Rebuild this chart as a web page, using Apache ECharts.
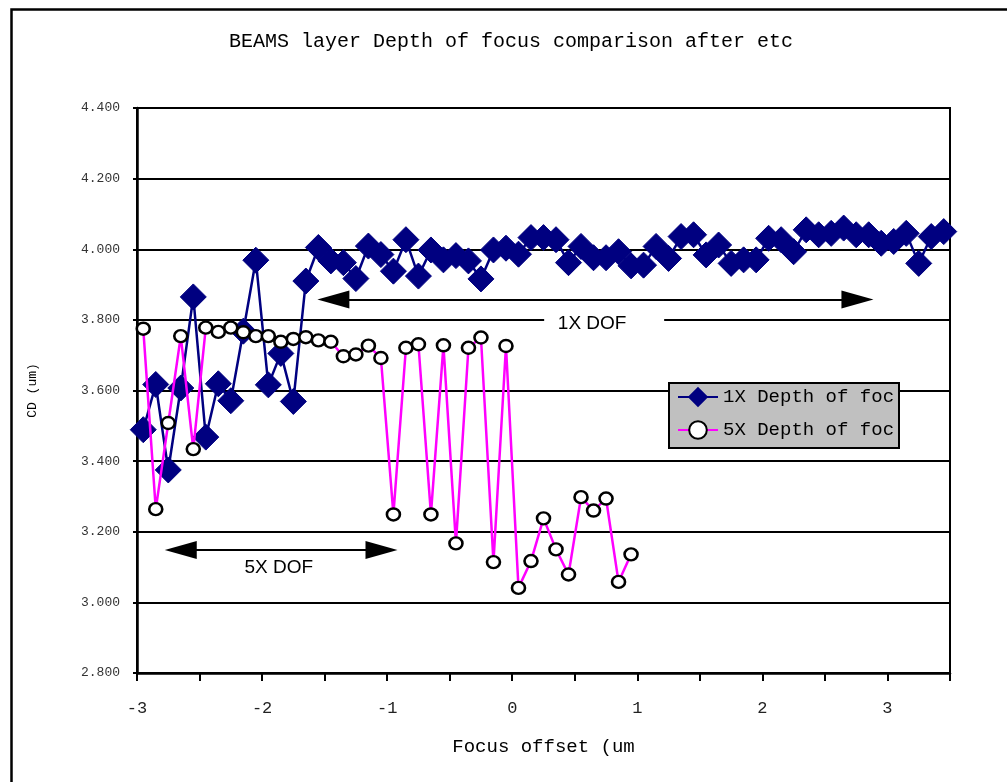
<!DOCTYPE html>
<html><head><meta charset="utf-8">
<script src="https://cdn.jsdelivr.net/npm/echarts@6/dist/echarts.min.js"></script>
<style>html,body{margin:0;padding:0;background:#fff}#c{width:1007px;height:782px}</style>
</head><body><div id="c"></div>
<script>
// ---- data ----
const title = 'BEAMS layer Depth of focus comparison after etc';
const seriesNames = ['1X Depth of focus', '5X Depth of focus'];
const xTickLabels = [-3, -2, -1, 0, 1, 2, 3];

const x1 = [-2.95,-2.85,-2.75,-2.65,-2.55,-2.45,-2.35,-2.25,-2.15,-2.05,
            -1.95,-1.85,-1.75,-1.65,-1.55,-1.45,-1.35,-1.25,-1.15,-1.05,
            -0.95,-0.85,-0.75,-0.65,-0.55,-0.45,-0.35,-0.25,-0.15,-0.05,
             0.05, 0.15, 0.25, 0.35, 0.45, 0.55, 0.65, 0.75, 0.85, 0.95,
             1.05, 1.15, 1.25, 1.35, 1.45, 1.55, 1.65, 1.75, 1.85, 1.95,
             2.05, 2.15, 2.25, 2.35, 2.45, 2.55, 2.65, 2.75, 2.85, 2.95,
             3.05, 3.15, 3.25, 3.35, 3.45];
const y1 = [3.489,3.617,3.375,3.607,3.865,3.468,3.619,3.571,3.768,3.969,
            3.616,3.705,3.569,3.910,4.005,3.967,3.962,3.917,4.009,3.985,
            3.938,4.027,3.924,3.998,3.970,3.982,3.967,3.916,3.998,4.003,
            3.986,4.033,4.033,4.027,3.962,4.008,3.976,3.976,3.993,3.953,
            3.955,4.008,3.974,4.036,4.041,3.984,4.012,3.960,3.970,3.970,
            4.031,4.027,3.993,4.055,4.041,4.045,4.060,4.041,4.041,4.017,
            4.022,4.045,3.960,4.036,4.050];

const x5 = [-2.95,-2.85,-2.75,-2.65,-2.55,-2.45,-2.35,-2.25,-2.15,-2.05,
            -1.95,-1.85,-1.75,-1.65,-1.55,-1.45,-1.35,-1.25,-1.15,-1.05,
            -0.95,-0.85,-0.75,-0.65,-0.55,-0.45,-0.35,-0.25,-0.15,-0.05,
             0.05, 0.15, 0.25, 0.35, 0.45, 0.55, 0.65, 0.75, 0.85, 0.95];
const y5 = [3.775,3.264,3.508,3.754,3.434,3.778,3.766,3.778,3.765,3.754,
            3.754,3.738,3.746,3.751,3.742,3.738,3.697,3.702,3.727,3.692,
            3.249,3.721,3.731,3.249,3.728,3.167,3.721,3.750,3.114,3.726,
            3.041,3.117,3.238,3.150,3.079,3.298,3.260,3.294,3.058,3.136];

// annotation anchors (data coordinates)
const dof1X = {from: -1.43, to: 2.76, y: 3.858, labelX: 0.735, labelY: 3.790, text: '1X DOF'};
const dof5X = {from: -2.65, to: -1.045, y: 3.148, labelX: -1.867, labelY: 3.099, text: '5X DOF'};

// ---- chart ----
const MONO = 'Liberation Mono';
const SANS = 'Liberation Sans';
const chart = echarts.init(document.getElementById('c'), null, {renderer: 'canvas'});

function arrowLine(d) {
  return {
    silent: true,
    symbol: ['triangle', 'triangle'],
    symbolSize: [18, 32],
    lineStyle: {color: '#000', width: 2, type: 'solid'},
    itemStyle: {color: '#000'},
    label: {show: false},
    emphasis: {disabled: true},
    animation: false,
    data: [[{coord: [d.from, d.y]}, {coord: [d.to, d.y]}]]
  };
}
function labelBox(d, size, offset) {
  return {
    silent: true,
    symbol: 'rect',
    symbolSize: size,
    itemStyle: {color: '#fff'},
    label: {show: true, position: 'inside', formatter: d.text, color: '#000',
            fontFamily: SANS, fontSize: 19, offset: offset},
    emphasis: {disabled: true},
    animation: false,
    data: [{coord: [d.labelX, d.labelY]}]
  };
}

chart.setOption({
  animation: false,
  backgroundColor: '#fff',
  title: {
    text: title, left: 224, top: 27,
    textStyle: {fontFamily: MONO, fontSize: 20, fontWeight: 'normal', color: '#000'}
  },
  graphic: [{
    type: 'rect', left: 9, top: 7, silent: true,
    shape: {width: 1200, height: 1000},
    style: {fill: 'none', stroke: '#000', lineWidth: 2.5}
  }],
  legend: {
    orient: 'vertical', left: 669, top: 383,
    backgroundColor: '#c0c0c0', borderColor: '#000', borderWidth: 2, borderRadius: 0,
    padding: [3, 0, 7, 8], itemGap: 11, itemWidth: 40, itemHeight: 22,
    textStyle: {fontFamily: MONO, fontSize: 19, color: '#000', width: 176,
                overflow: 'truncate', ellipsis: '', lineHeight: 22},
    selectedMode: false,
    data: seriesNames
  },
  grid: {left: 137, right: 57, top: 108, bottom: 109, show: true,
         borderColor: '#000', borderWidth: 2, containLabel: false},
  xAxis: {
    type: 'value', min: -3, max: 3.5, interval: 0.5,
    name: 'Focus offset (um', nameLocation: 'middle', nameGap: 64,
    nameTextStyle: {fontFamily: MONO, fontSize: 19, color: '#000'},
    axisLine: {show: true, onZero: false, lineStyle: {color: '#000', width: 2.5}},
    axisTick: {show: true, inside: false, length: 8, lineStyle: {color: '#000', width: 2}},
    axisLabel: {margin: 27, fontFamily: MONO, fontSize: 17, color: '#222',
                formatter: v => (xTickLabels.indexOf(v) >= 0 ? String(v) : '')},
    splitLine: {show: false}
  },
  yAxis: {
    type: 'value', min: 2.8, max: 4.4, interval: 0.2,
    name: 'CD (um)', nameLocation: 'middle', nameGap: 98, nameRotate: 90,
    nameTextStyle: {fontFamily: MONO, fontSize: 13, color: '#000'},
    axisLine: {show: true, onZero: false, lineStyle: {color: '#000', width: 2.5}},
    axisTick: {show: true, inside: false, length: 4, lineStyle: {color: '#000', width: 2}},
    axisLabel: {margin: 17, fontFamily: MONO, fontSize: 13, color: '#333',
                formatter: v => v.toFixed(3)},
    splitLine: {show: true, lineStyle: {color: '#000', width: 2}}
  },
  series: [
    {
      name: seriesNames[0], type: 'line',
      data: x1.map((x, i) => [x, y1[i]]),
      symbol: 'diamond', symbolSize: 26, showAllSymbol: true,
      lineStyle: {color: '#000080', width: 2.5},
      itemStyle: {color: '#000080', borderColor: '#000080', borderWidth: 1},
      emphasis: {disabled: true},
      markLine: arrowLine(dof1X),
      markPoint: labelBox(dof1X, [120, 26], [-12, 0]),
      z: 2
    },
    {
      name: seriesNames[1], type: 'line',
      data: x5.map((x, i) => [x, y5[i]]),
      symbol: 'circle', symbolSize: [13, 12], showAllSymbol: true,
      lineStyle: {color: '#ff00ff', width: 2.5},
      itemStyle: {color: '#fff', borderColor: '#000', borderWidth: 2.5},
      emphasis: {disabled: true},
      markLine: arrowLine(dof5X),
      markPoint: labelBox(dof5X, [84, 24], [0, 0]),
      z: 3
    }
  ]
});
</script></body></html>
